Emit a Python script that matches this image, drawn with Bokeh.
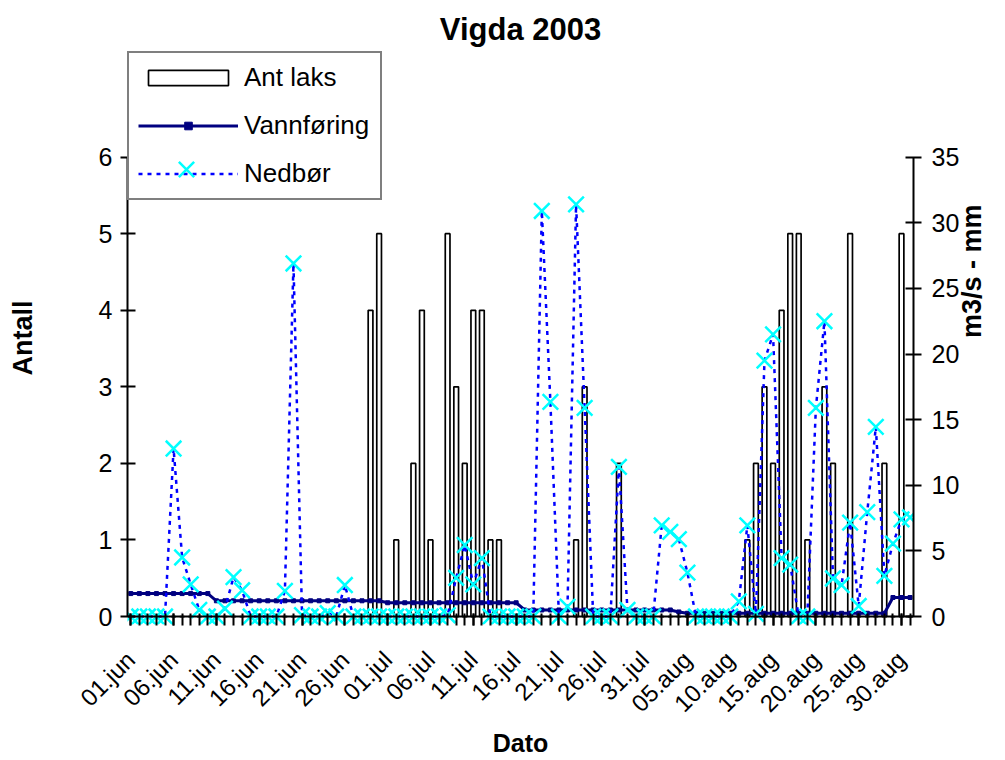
import math
from bokeh.plotting import figure
from bokeh.models import (Range1d, LinearAxis, FixedTicker, Legend, LegendItem,
                          ColumnDataSource, Span)
from bokeh.embed import file_html
from bokeh.resources import INLINE

FONT = "Liberation Sans"

# ---------------- data ----------------
# day index 0 = 01.jun ... 91 = 31.aug
month_lengths = [("jun", 30), ("jul", 31), ("aug", 31)]
dates = [f"{d:02d}.{m}" for m, n in month_lengths for d in range(1, n + 1)]
day_index = list(range(len(dates)))

tick_days = [0, 5, 10, 15, 20, 25, 30, 35, 40, 45, 50, 55, 60, 65, 70, 75, 80, 85, 90]
tick_labels = ["01.jun", "06.jun", "11.jun", "16.jun", "21.jun", "26.jun",
               "01.jul", "06.jul", "11.jul", "16.jul", "21.jul", "26.jul", "31.jul",
               "05.aug", "10.aug", "15.aug", "20.aug", "25.aug", "30.aug"]

# Ant laks (left axis)
ant_laks = [
    0, 0, 0, 0, 0, 0, 0, 0, 0, 0,          # 01-10 jun
    0, 0, 0, 0, 0, 0, 0, 0, 0, 0,          # 11-20 jun
    0, 0, 0, 0, 0, 0, 0, 0, 4, 5,          # 21-30 jun
    0, 1, 0, 2, 4, 1, 0, 5, 3, 2,          # 01-10 jul
    4, 4, 1, 1, 0, 0, 0, 0, 0, 0,          # 11-20 jul
    0, 0, 1, 3, 0, 0, 0, 2, 0, 0,          # 21-30 jul
    0, 0, 0, 0, 0, 0, 0, 0, 0, 0,          # 31 jul - 09 aug
    0, 0, 1, 2, 3, 2, 4, 5, 5, 1,          # 10-19 aug
    0, 3, 2, 0, 5, 0, 0, 0, 2, 0,          # 20-29 aug
    5, 0,                                  # 30-31 aug
]

# Vannføring m3/s (right axis)
vannforing = [
    1.75, 1.75, 1.75, 1.75, 1.75, 1.75, 1.75, 1.75, 1.75, 1.75,
    1.2, 1.2, 1.2, 1.2, 1.2, 1.2, 1.2, 1.2, 1.2, 1.2,
    1.2, 1.2, 1.2, 1.2, 1.2, 1.2, 1.2, 1.2, 1.2, 1.2,
    1.05, 1.05, 1.05, 1.05, 1.05, 1.05, 1.05, 1.05, 1.05, 1.05,
    1.05, 1.05, 1.05, 1.05, 1.05, 1.05, 0.5, 0.5, 0.5, 0.5,
    0.5, 0.5, 0.5, 0.5, 0.5, 0.5, 0.5, 0.5, 0.5, 0.5,
    0.5, 0.5, 0.5, 0.5, 0.35, 0.25, 0.25, 0.25, 0.25, 0.25,
    0.25, 0.25, 0.25, 0.25, 0.25, 0.25, 0.25, 0.25, 0.25, 0.25,
    0.25, 0.25, 0.25, 0.25, 0.25, 0.25, 0.25, 0.25, 0.25, 1.45,
    1.45, 1.45,
]

# Nedbør mm (right axis)
nedbor = [
    0, 0, 0, 0, 0, 12.8, 4.5, 2.45, 0.5, 0,
    0, 0.6, 3.0, 2.0, 0, 0, 0, 0, 1.95, 26.9,
    0.1, 0, 0, 0.25, 0, 2.4, 0, 0, 0, 0,
    0, 0, 0, 0, 0, 0, 0, 0.1, 2.95, 5.45,
    2.45, 4.45, 0, 0, 0, 0, 0, 0, 30.9, 16.35,
    0, 0.75, 31.4, 15.9, 0, 0, 0, 11.4, 0.5, 0,
    0, 0, 6.95, 6.45, 5.9, 3.35, 0, 0, 0, 0,
    0, 1.15, 6.95, 0.2, 19.5, 21.5, 4.45, 3.95, 0, 0,
    15.9, 22.5, 2.9, 2.4, 7.15, 0.8, 7.95, 14.45, 3.1, 5.55,
    7.4, 7.55,
]

src = ColumnDataSource(dict(day=day_index, date=dates, laks=ant_laks,
                            vann=vannforing, ned=nedbor))

# ---------------- figure ----------------
p = figure(width=1005, height=760, output_backend="svg", toolbar_location=None,
           x_range=Range1d(-0.38, 91.4), y_range=Range1d(-0.104, 7.38),
           min_border_left=127, min_border_right=88, min_border_top=51,
           min_border_bottom=134)
p.extra_y_ranges = {"right": Range1d(-0.607, 43.05)}
p.xgrid.visible = False
p.ygrid.visible = False
p.outline_line_color = None
p.background_fill_color = "white"
p.border_fill_color = "white"

p.title.text = "Vigda 2003"
p.title.align = "center"
p.title.text_font = FONT
p.title.text_font_size = "31px"
p.title.text_font_style = "bold"
p.title.text_color = "black"

# bars
bars = p.vbar(x="day", top="laks", width=0.55, bottom=0, source=src,
              fill_color="white", line_color="black", line_width=1.7)

# category axis line at zero
p.add_layout(Span(location=0, dimension="width", line_color="black", line_width=2))

# vannføring
vline = p.line(x="day", y="vann", source=src, y_range_name="right",
               line_color="#000080", line_width=3)
vmark = p.scatter(x="day", y="vann", source=src, y_range_name="right",
                  marker="square", size=4, fill_color="#000080", line_color="#000080")

# nedbør
nline = p.line(x="day", y="ned", source=src, y_range_name="right",
               line_color="#0000FF", line_width=2.5, line_dash="4 5")
nmark = p.scatter(x="day", y="ned", source=src, y_range_name="right",
                  marker="x", size=22, line_color="#00FFFF", line_width=2.5)

# ---------------- axes ----------------
xa = p.xaxis[0]
xa.ticker = FixedTicker(ticks=tick_days, minor_ticks=day_index)
xa.major_label_overrides = {d: lab for d, lab in zip(tick_days, tick_labels)}
xa.major_label_orientation = math.pi / 4
xa.axis_label = "Dato"
xa.axis_line_color = None
xa.major_tick_in = 11
xa.major_tick_out = 1
xa.minor_tick_in = 11
xa.minor_tick_out = 1

ya = p.yaxis[0]
ya.ticker = FixedTicker(ticks=[0, 1, 2, 3, 4, 5, 6])
ya.bounds = (0, 6)
ya.axis_label = "Antall"
ya.major_tick_in = 8
ya.major_tick_out = 7
ya.minor_tick_in = 0
ya.minor_tick_out = 0
ya.major_label_standoff = 8
ya.axis_label_standoff = 58

yr = LinearAxis(y_range_name="right", axis_label="m3/s - mm")
yr.ticker = FixedTicker(ticks=[0, 5, 10, 15, 20, 25, 30, 35])
yr.bounds = (0, 35)
yr.major_tick_in = 8
yr.major_tick_out = 8
yr.minor_tick_in = 0
yr.minor_tick_out = 0
yr.major_label_standoff = 10
yr.axis_label_standoff = 10
try:
    yr.axis_label_orientation = math.pi / 2
except Exception:
    pass
p.add_layout(yr, "right")

for ax in [xa, ya, yr]:
    if ax is not xa:
        ax.axis_line_color = "black"
        ax.axis_line_width = 2
    ax.major_tick_line_color = "black"
    ax.major_tick_line_width = 2
    ax.minor_tick_line_color = "black"
    ax.minor_tick_line_width = 2
    ax.major_label_text_font = FONT
    ax.major_label_text_font_size = "25px"
    ax.major_label_text_color = "black"
    ax.axis_label_text_font = FONT
    ax.axis_label_text_font_style = "bold"
    ax.axis_label_text_color = "black"
ya.axis_label_text_font_size = "27px"
yr.axis_label_text_font_size = "27px"
xa.axis_label_text_font_size = "25px"
xa.major_label_text_font_size = "24px"
xa.major_label_text_baseline = "bottom"
xa.major_label_standoff = 30
xa.axis_label_standoff = 0

# ---------------- legend ----------------
legend = Legend(items=[
    LegendItem(label="Ant laks", renderers=[bars]),
    LegendItem(label="Vannføring", renderers=[vline, vmark]),
    LegendItem(label="Nedbør", renderers=[nline]),
], location="top_left")
legend.margin = 0
legend.padding = 9
legend.spacing = 17
legend.label_height = 28
legend.glyph_height = 19
legend.glyph_width = 100
legend.label_standoff = 6
legend.label_width = 127
legend.border_line_color = "black"
legend.border_line_width = 2
legend.background_fill_color = "white"
legend.background_fill_alpha = 1
legend.label_text_font = FONT
legend.label_text_font_size = "26px"
legend.label_text_color = "black"
p.add_layout(legend)

# larger cross marker for the Nedbør legend entry
legend_x = Legend(items=[LegendItem(label=" ", renderers=[nmark])],
                  location=(32, 428))
legend_x.margin = 0
legend_x.padding = 0
legend_x.glyph_width = 54
legend_x.glyph_height = 54
legend_x.label_standoff = 0
legend_x.label_width = 0
legend_x.label_height = 0
legend_x.label_text_font_size = "1px"
legend_x.border_line_color = None
legend_x.background_fill_alpha = 0
p.add_layout(legend_x)

open("out.html", "w").write(file_html(p, INLINE))
